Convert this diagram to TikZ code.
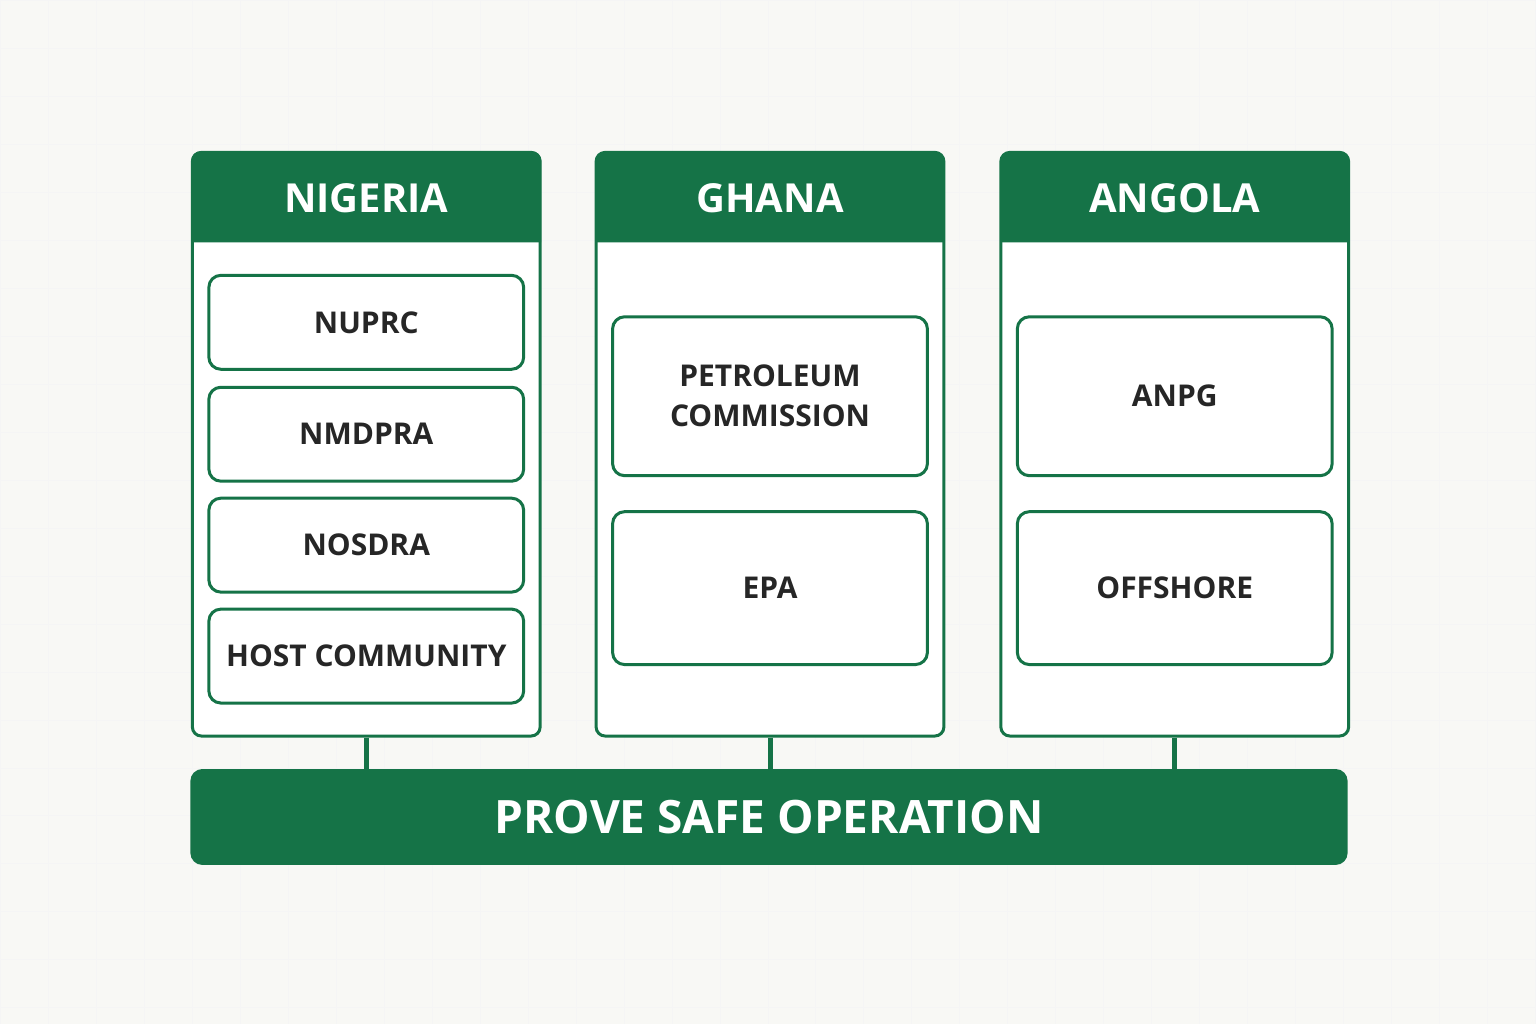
\documentclass[tikz,border=0pt]{standalone}
\usepackage{fontspec}
\setmainfont{Open Sans}
\usetikzlibrary{positioning}
\definecolor{leaf}{HTML}{157347}
\definecolor{paper}{HTML}{F8F8F5}

\begin{document}
\begin{tikzpicture}[x=1pt, y=-1pt,
        column/.style={rectangle, draw=leaf, line width=3pt, fill=white, rounded corners=9pt, minimum width=348pt, minimum height=584pt},
        head/.style={text=white, font=\fontsize{40}{44}\selectfont\bfseries},
        agency/.style={rectangle, draw=leaf, line width=3pt, fill=white, rounded corners=12pt, minimum width=315pt, text=black!85, align=center, font=\fontsize{30}{40}\selectfont\bfseries},
        goal/.style={rectangle, fill=leaf, rounded corners=12pt, minimum width=1158pt, minimum height=96pt, text=white, font=\fontsize{46}{50}\selectfont\bfseries}
      ]
        % background and faint grid
        \fill[paper] (0,0) rectangle (1536,1024);
        \draw[black!4, line width=1pt] (0,0) grid[step=48pt] (1536,1024);
        \useasboundingbox (0,0) rectangle (1536,1024);

        % three country columns
        \node[column] (nigeria) at (366,444) {};
        \node[column] (ghana)   at (770,444) {};
        \node[column] (angola)  at (1175,444) {};
        \foreach \l/\r in {191/541, 597/944, 1002/1348}
          \fill[leaf] (\l,242) [rounded corners=9pt]-- (\l,151) -- (\r,151) [sharp corners]-- (\r,242) -- cycle;
        \node[head] at (366,198) {NIGERIA};
        \node[head] at (770,198) {GHANA};
        \node[head] at (1175,198) {ANGOLA};

        % agencies
        \foreach \y/\t [count=\i] in {322/NUPRC, 434/NMDPRA, 545/NOSDRA, 656/HOST COMMUNITY}
          \node[agency, minimum height=94pt] (ng\i) at (366,\y) {\t};
        \node[agency, minimum height=159pt] (gh1) at (770,396) {PETROLEUM\\COMMISSION};
        \node[agency, minimum height=153pt] (gh2) at (770,588) {EPA};
        \node[agency, minimum height=159pt] (ao1) at (1175,396) {ANPG};
        \node[agency, minimum height=153pt] (ao2) at (1175,588) {OFFSHORE};

        % common goal
        \node[goal] (safe) at (769,817) {PROVE SAFE OPERATION};
        \foreach \c in {nigeria, ghana, angola}
          \draw[leaf, line width=5pt] (\c.south) -- (\c.south |- safe.north);
      \end{tikzpicture}
\end{document}
